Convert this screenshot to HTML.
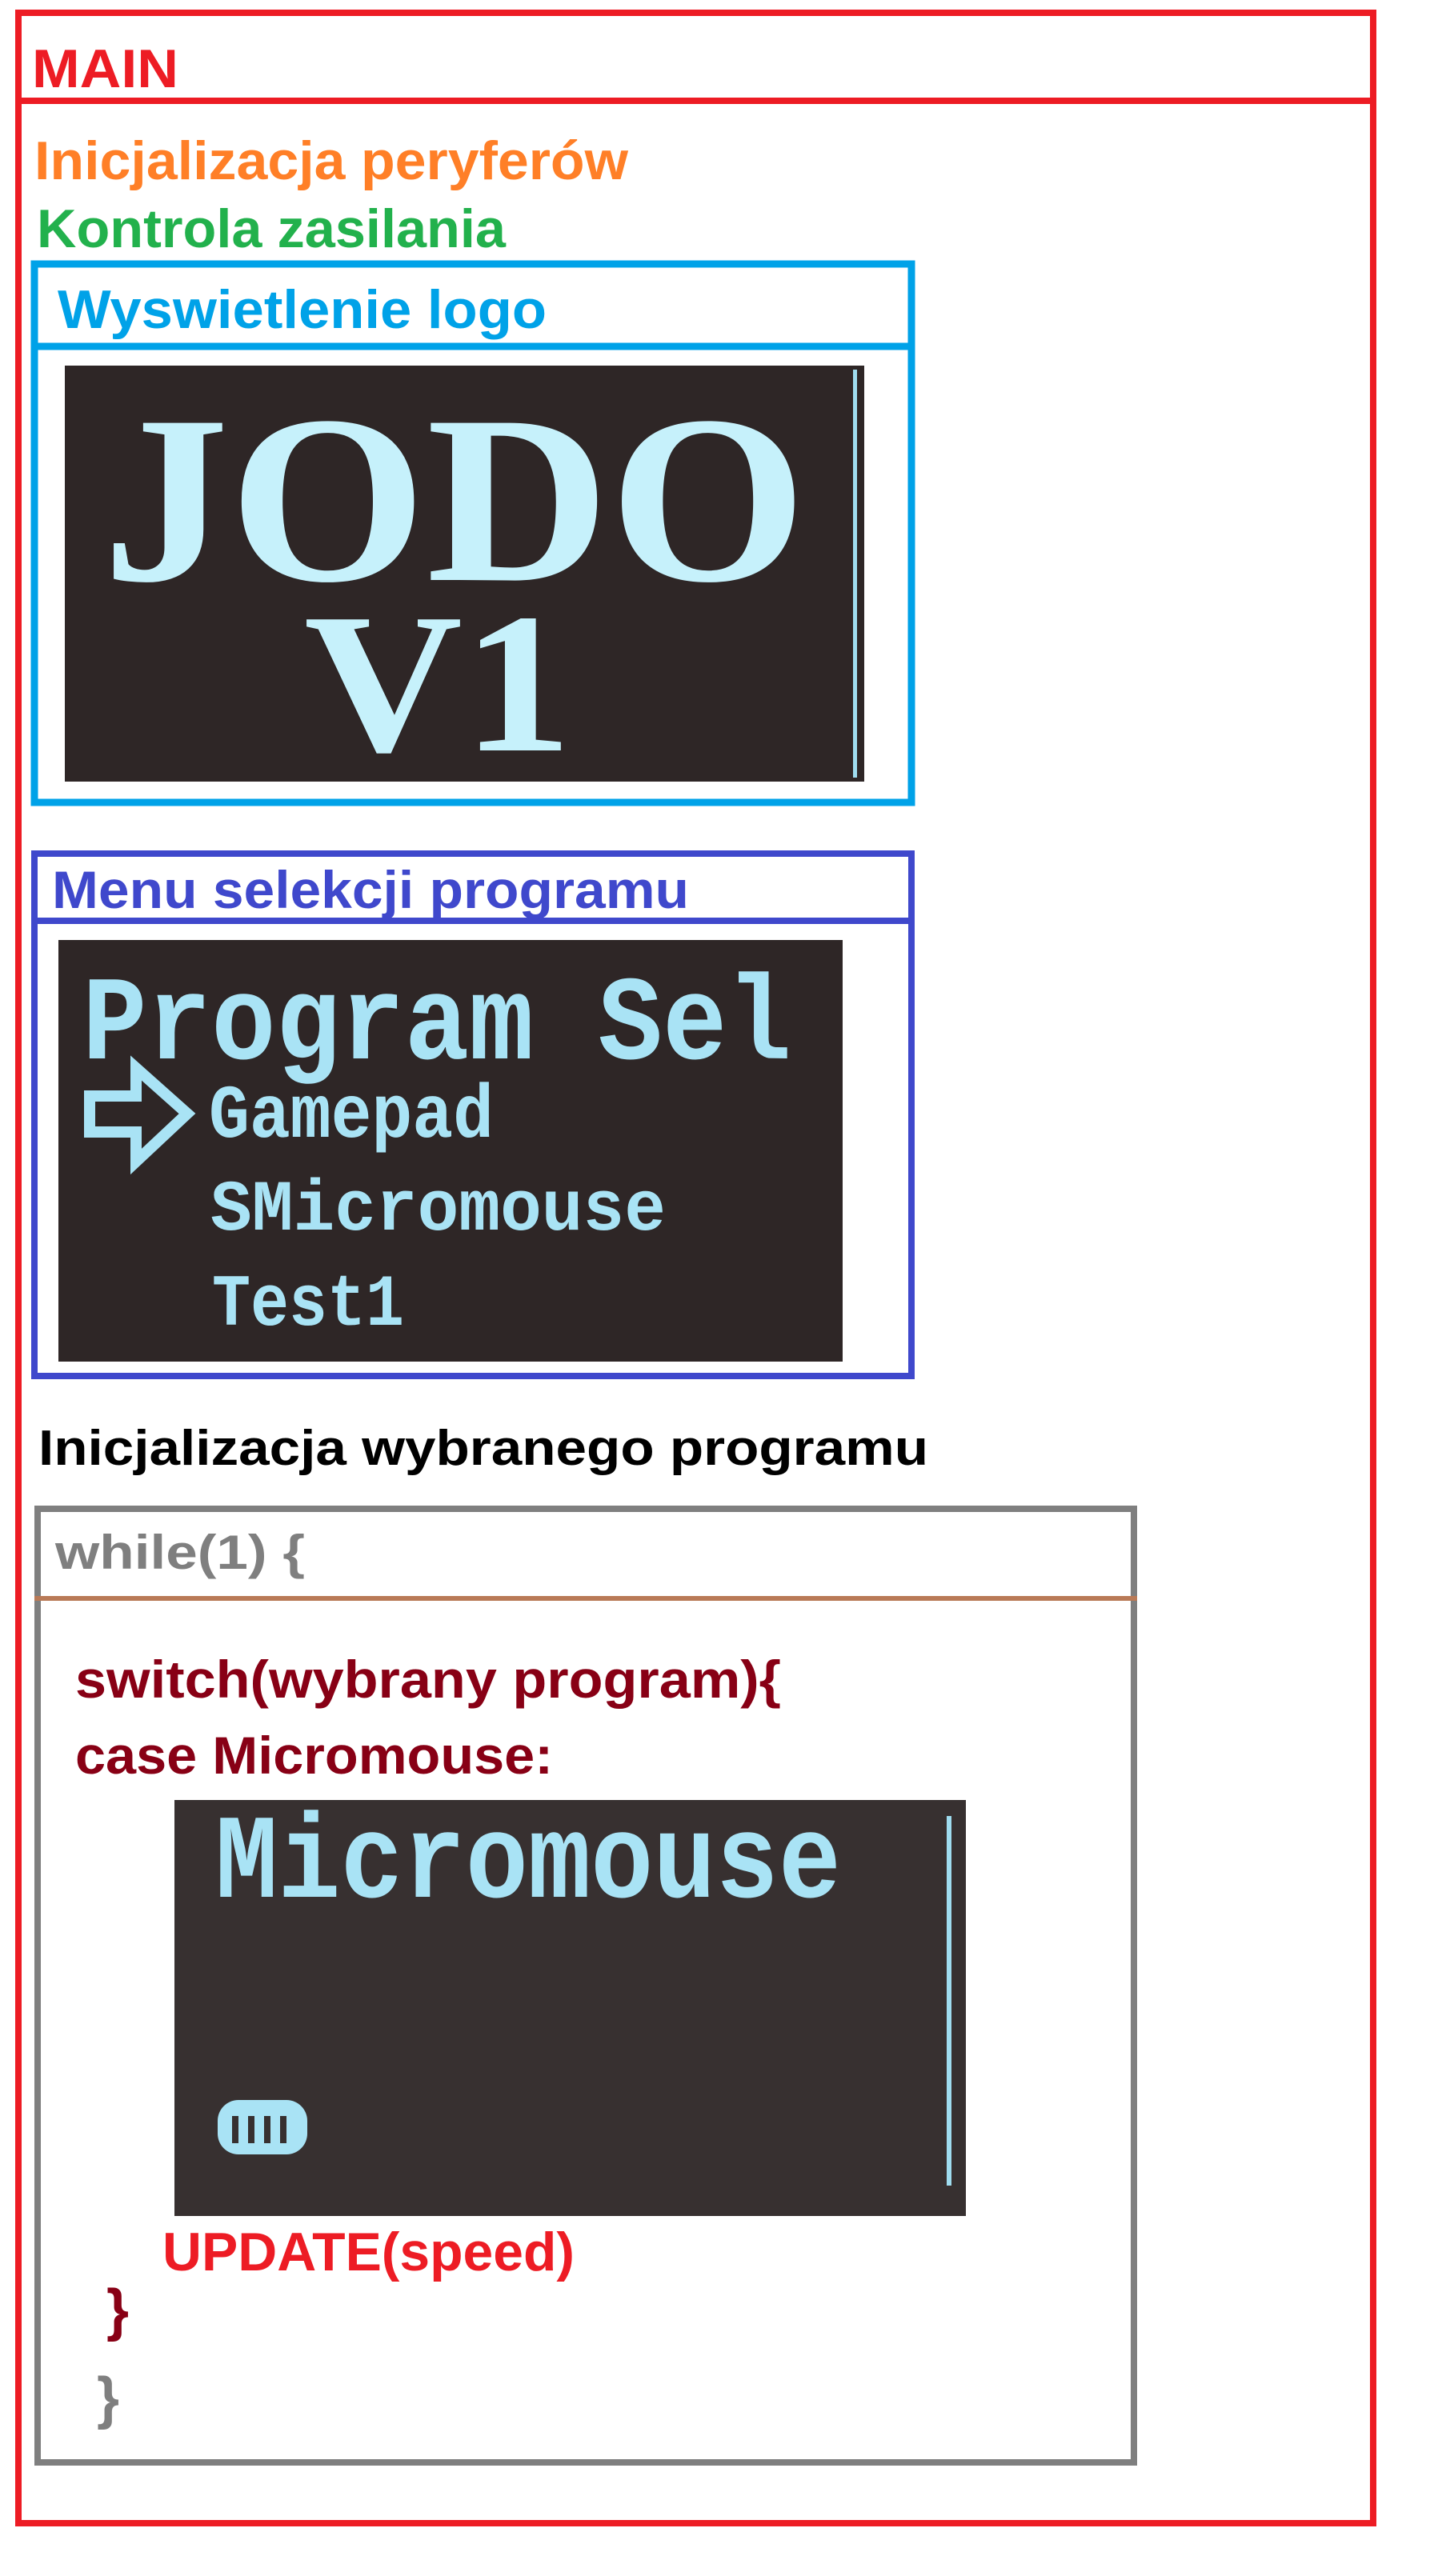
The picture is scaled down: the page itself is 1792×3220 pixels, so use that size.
<!DOCTYPE html>
<html><head><meta charset="utf-8"><style>html,body{margin:0;padding:0;background:#fff}svg{display:block}</style></head>
<body>
<svg width="1792" height="3220" viewBox="0 0 1792 3220" xmlns="http://www.w3.org/2000/svg">
<rect width="1792" height="3220" fill="#fff"/>
<g font-family="Liberation Sans, sans-serif" font-weight="bold">
<!-- MAIN outer -->
<rect x="23" y="16" width="1693" height="3138" fill="none" stroke="#ed1c24" stroke-width="8"/>
<line x1="23" y1="126" x2="1716" y2="126" stroke="#ed1c24" stroke-width="8"/>
<text x="40" y="109" font-size="68" fill="#ed1c24" textLength="183" lengthAdjust="spacingAndGlyphs">MAIN</text>
<text x="43" y="224" font-size="68" fill="#ff7f27" textLength="742" lengthAdjust="spacingAndGlyphs">Inicjalizacja peryferów</text>
<text x="46" y="309" font-size="68" fill="#22b14c" textLength="586" lengthAdjust="spacingAndGlyphs">Kontrola zasilania</text>

<!-- logo box -->
<rect x="43" y="330" width="1096" height="673" fill="none" stroke="#00a2e8" stroke-width="9"/>
<line x1="39" y1="433" x2="1143" y2="433" stroke="#00a2e8" stroke-width="9"/>
<text x="72" y="410" font-size="68" fill="#00a2e8" textLength="611" lengthAdjust="spacingAndGlyphs">Wyswietlenie logo</text>
<rect x="81" y="457" width="999" height="520" fill="#2e2626"/>
<rect x="1066" y="462" width="5" height="510" fill="#9fdcef"/>
<text x="128" y="725" font-family="Liberation Serif, serif" font-size="300" fill="#c6f1fb" textLength="880" lengthAdjust="spacingAndGlyphs">JODO</text>
<text x="380" y="938" font-family="Liberation Serif, serif" font-size="250" fill="#c6f1fb" textLength="335" lengthAdjust="spacingAndGlyphs">V1</text>

<!-- menu box -->
<rect x="43" y="1067" width="1096" height="653" fill="none" stroke="#3f48cc" stroke-width="8"/>
<line x1="39" y1="1151" x2="1143" y2="1151" stroke="#3f48cc" stroke-width="8"/>
<text x="65" y="1135" font-size="66" fill="#3f48cc" textLength="796" lengthAdjust="spacingAndGlyphs">Menu selekcji programu</text>
<rect x="73" y="1175" width="980" height="527" fill="#2e2626"/>
<g font-family="Liberation Mono, monospace" fill="#a9e3f5">
<text x="103" y="1323" font-size="150" textLength="886" lengthAdjust="spacingAndGlyphs">Program Sel</text>
<text x="261" y="1421" font-size="95" textLength="356" lengthAdjust="spacingAndGlyphs">Gamepad</text>
<text x="263" y="1537" font-size="90" textLength="569" lengthAdjust="spacingAndGlyphs">SMicromouse</text>
<text x="265" y="1656" font-size="92" textLength="240" lengthAdjust="spacingAndGlyphs">Test1</text>
</g>
<path d="M112 1370 L170 1370 L170 1335 L234 1392 L170 1452 L170 1415 L112 1415 Z" fill="none" stroke="#a9e3f5" stroke-width="14"/>

<text x="48" y="1831" font-size="62" fill="#000" textLength="1112" lengthAdjust="spacingAndGlyphs">Inicjalizacja wybranego programu</text>

<!-- while box -->
<rect x="47" y="1886" width="1370" height="1192" fill="none" stroke="#7f7f7f" stroke-width="8"/>
<line x1="43" y1="1998" x2="1421" y2="1998" stroke="#b97a57" stroke-width="6"/>
<text x="69" y="1961" font-size="60" fill="#7f7f7f" textLength="312" lengthAdjust="spacingAndGlyphs">while(1) {</text>
<text x="94" y="2122" font-size="66" fill="#880015" textLength="882" lengthAdjust="spacingAndGlyphs">switch(wybrany program){</text>
<text x="94" y="2217" font-size="66" fill="#880015" textLength="597" lengthAdjust="spacingAndGlyphs">case Micromouse:</text>
<rect x="218" y="2250" width="989" height="520" fill="#373030"/>
<rect x="1183" y="2270" width="6" height="462" fill="#9fdcef"/>
<text x="269" y="2371" font-family="Liberation Mono, monospace" font-size="150" fill="#a9e3f5" textLength="782" lengthAdjust="spacingAndGlyphs">Micromouse</text>
<rect x="272" y="2625" width="112" height="68" rx="26" fill="#a9e3f5"/>
<g fill="#373030"><rect x="290" y="2645" width="8" height="34"/><rect x="310" y="2645" width="8" height="34"/><rect x="330" y="2645" width="8" height="34"/><rect x="350" y="2645" width="8" height="34"/></g>
<text x="203" y="2838" font-size="68" fill="#ed1c24" textLength="515" lengthAdjust="spacingAndGlyphs">UPDATE(speed)</text>
<text x="133" y="2912" font-size="72" fill="#880015">}</text>
<text x="121" y="3022" font-size="72" fill="#7f7f7f">}</text>
</g>
</svg>
</body></html>
